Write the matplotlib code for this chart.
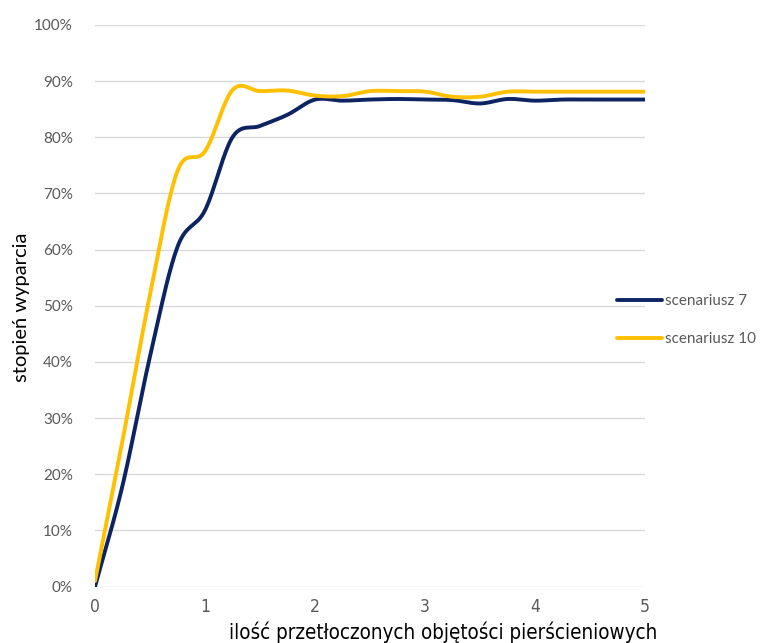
import matplotlib
matplotlib.use('Agg')
import matplotlib.pyplot as plt
import numpy as np
from matplotlib.ticker import PercentFormatter

# values
x = [0, 0.25, 0.5, 0.75, 1.0, 1.25, 1.5, 1.75, 2.0, 2.25, 2.5, 2.75, 3.0,
     3.25, 3.5, 3.75, 4.0, 4.25, 4.5, 4.75, 5.0]
scen7 = [0.0, 18.0, 41.0, 60.5, 67.0, 80.0, 82.0, 84.0, 86.7, 86.5, 86.7, 86.8,
         86.7, 86.6, 86.0, 86.8, 86.5, 86.7, 86.7, 86.7, 86.7]
scen10 = [1.0, 26.0, 52.0, 74.0, 77.5, 88.4, 88.2, 88.3, 87.4, 87.3, 88.2, 88.2,
          88.1, 87.2, 87.2, 88.1, 88.1, 88.1, 88.1, 88.1, 88.1]
labels = ['scenariusz 7', 'scenariusz 10']
colors = ['#0d2463', '#ffc000']


def smooth(xs, ys, n=20):
    # catmull-rom, like the "smoothed line" option in Excel
    xs = np.asarray(xs, float)
    ys = np.asarray(ys, float)
    px = np.concatenate([[2 * xs[0] - xs[1]], xs, [2 * xs[-1] - xs[-2]]])
    py = np.concatenate([[2 * ys[0] - ys[1]], ys, [2 * ys[-1] - ys[-2]]])
    ox, oy = [], []
    t = np.linspace(0, 1, n, endpoint=False)
    for i in range(1, len(px) - 2):
        for p, out in ((px, ox), (py, oy)):
            p0, p1, p2, p3 = p[i - 1], p[i], p[i + 1], p[i + 2]
            out.extend(0.5 * (2 * p1 + (-p0 + p2) * t
                              + (2 * p0 - 5 * p1 + 4 * p2 - p3) * t ** 2
                              + (-p0 + 3 * p1 - 3 * p2 + p3) * t ** 3))
    ox.append(xs[-1])
    oy.append(ys[-1])
    return np.array(ox), np.array(oy)


fig = plt.figure(figsize=(7.7, 6.43), dpi=100)
ax = fig.add_axes([0.1234, 0.0876, 0.7143, 0.8738])

for ys, lab, c in zip([scen7, scen10], labels, colors):
    sx, sy = smooth(x, ys)
    ax.plot(sx, sy, color=c, lw=2.8, label=lab, solid_capstyle='round')

ax.set_xlim(0, 5)
ax.set_ylim(0, 100)
ax.set_yticks(np.arange(0, 101, 10))
ax.set_xticks(range(6))
ax.yaxis.set_major_formatter(PercentFormatter(decimals=0))
ax.grid(axis='y', color='#d9d9d9', lw=1)
ax.set_axisbelow(True)
for s in ax.spines.values():
    s.set_visible(False)
ax.tick_params(length=0)
ax.tick_params(axis='y', colors='#595959', labelsize=11, pad=16)
ax.tick_params(axis='x', colors='#595959', labelsize=12.5, pad=8)
for t in ax.get_yticklabels():
    t.set_family(['Lato', 'DejaVu Sans'])
for t in ax.get_xticklabels():
    t.set_family('DejaVu Sans')
    t.set_fontstretch('condensed')

fig.text(0.575, 0.0, 'ilość przetłoczonych objętości pierścieniowych',
         ha='center', va='bottom', fontsize=14.8, fontstretch='condensed',
         family='DejaVu Sans')
fig.text(0.028, 0.522, 'stopień wyparcia', rotation=90, ha='center',
         va='center', fontsize=14.5, family=['Lato', 'DejaVu Sans'])

leg = fig.legend(loc='center left', bbox_to_anchor=(0.783, 0.502),
                 frameon=False, handlelength=3.0, handletextpad=0.15,
                 labelspacing=1.55, prop={'family': ['Lato', 'DejaVu Sans'],
                                          'size': 11})
for t in leg.get_texts():
    t.set_color('#595959')

fig.savefig('out.png', dpi=100)
